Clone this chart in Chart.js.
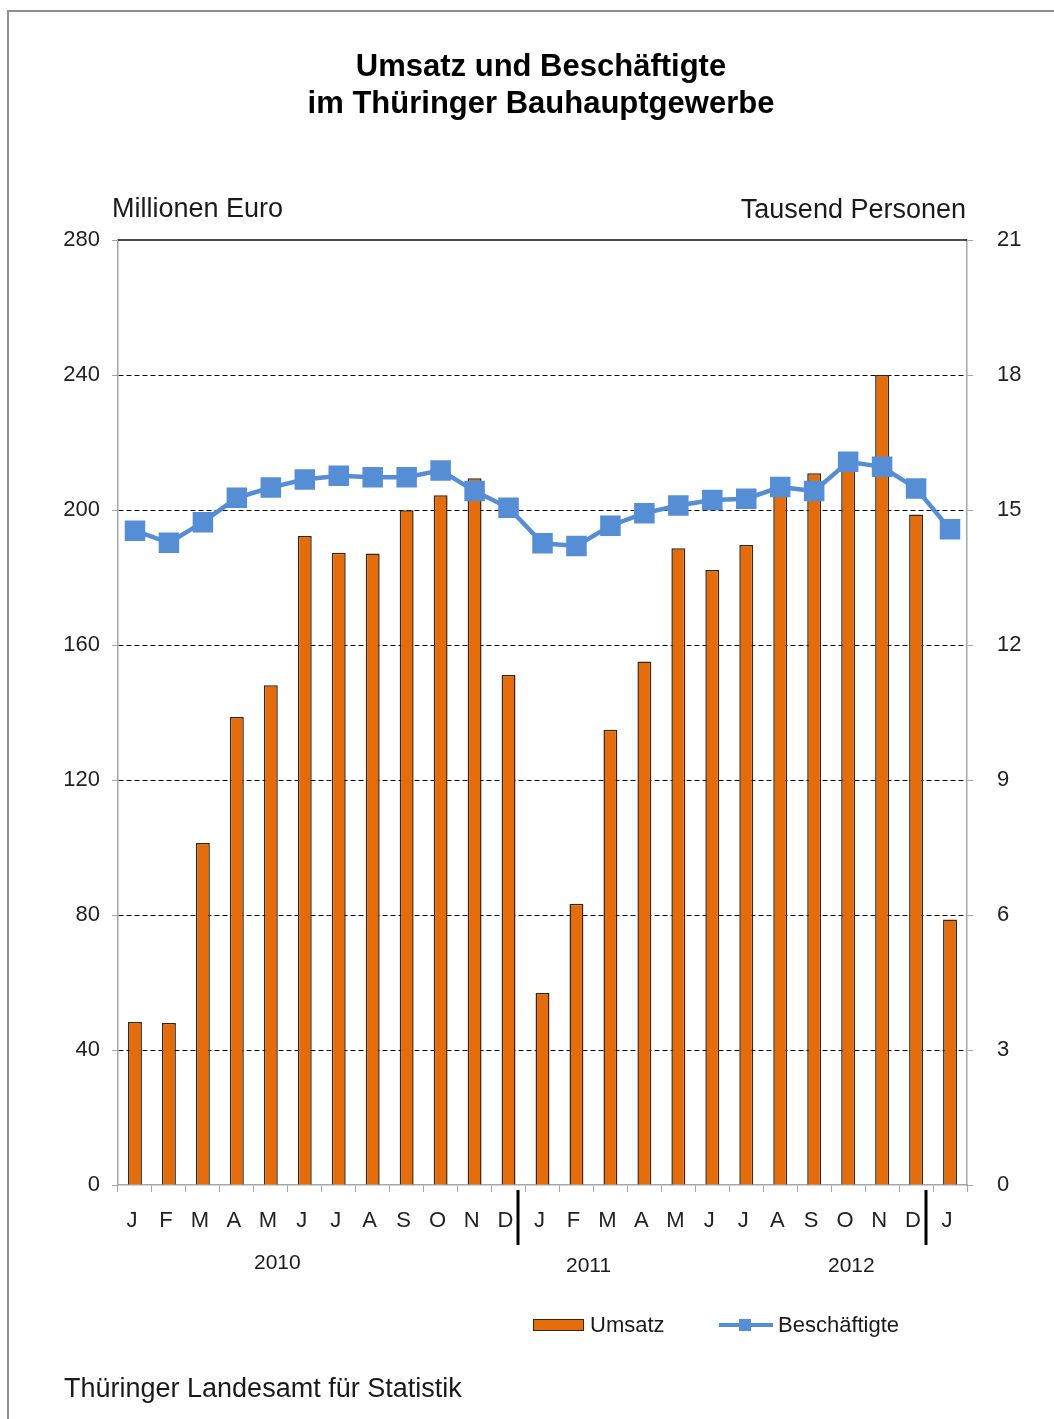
<!DOCTYPE html>
<html><head><meta charset="utf-8">
<script src="https://cdn.jsdelivr.net/npm/chart.js@4.4.1/dist/chart.umd.min.js"></script>
<style>
html,body{margin:0;padding:0;background:#fff;overflow:hidden;}
body{width:1054px;height:1419px;position:relative;font-family:"Liberation Sans",Arial,sans-serif;color:#1a1a1a;}
#frame{position:absolute;left:7px;top:10px;width:1200px;height:1600px;border:2px solid #8f8f8f;box-sizing:border-box;}
#c{position:absolute;left:0;top:0;}
.t{position:absolute;white-space:nowrap;}
</style></head><body>
<div id="frame"></div>
<canvas id="c" width="1054" height="1419"></canvas>
<div class="t" style="left:0;width:1082px;text-align:center;top:47px;font-weight:bold;font-size:31px;line-height:37px;color:#000;">Umsatz und Beschäftigte<br>im Thüringer Bauhauptgewerbe</div>
<div class="t" style="left:112px;top:193px;font-size:27px;">Millionen Euro</div>
<div class="t" style="right:88px;top:194px;font-size:27px;">Tausend Personen</div>
<div class="t" style="left:254px;top:1250px;font-size:21px;">2010</div>
<div class="t" style="left:566px;top:1253px;font-size:21px;">2011</div>
<div class="t" style="left:828px;top:1253px;font-size:21px;">2012</div>
<div class="t" style="left:533px;top:1319px;width:49px;height:10px;background:#E46C0A;border:1.5px solid #3b2413;"></div>
<div class="t" style="left:590px;top:1312px;font-size:22px;">Umsatz</div>
<div class="t" style="left:719px;top:1323px;width:54px;height:4px;background:#558ED5;"></div>
<div class="t" style="left:739px;top:1319px;width:12px;height:12px;background:#558ED5;"></div>
<div class="t" style="left:778px;top:1312px;font-size:22px;">Beschäftigte</div>
<div class="t" style="left:64px;top:1373px;font-size:27px;">Thüringer Landesamt für Statistik</div>
<script>
const categories = ['J','F','M','A','M','J','J','A','S','O','N','D','J','F','M','A','M','J','J','A','S','O','N','D','J'];
const umsatz = [48.3,48,101.3,138.7,148.1,192.3,187.3,187.1,199.9,204.4,209.4,151.1,56.9,83.3,134.9,155.1,188.7,182.2,189.6,206,210.9,213,240,198.7,78.7];
const beschaeftigte = [14.54,14.27,14.73,15.27,15.50,15.68,15.76,15.73,15.73,15.88,15.42,15.05,14.26,14.20,14.65,14.93,15.10,15.22,15.25,15.51,15.42,16.07,15.96,15.48,14.57];
const yTicksLeft = {min:0, max:280, step:40};
const yTicksRight = {min:0, max:21, step:3};
const yearBreaks = [11.27, 23.3];

const FONT = '"Liberation Sans", Arial, sans-serif';
const extras = {
  id:'extras',
  afterDraw(chart){
    const ctx = chart.ctx, a = chart.chartArea, xs = chart.scales.x;
    ctx.save();
    ctx.strokeStyle = '#111'; ctx.lineWidth = 1.5;
    ctx.beginPath(); ctx.moveTo(a.left, a.top); ctx.lineTo(a.right, a.top); ctx.stroke();
    ctx.lineWidth = 3; ctx.strokeStyle = '#000';
    yearBreaks.forEach(v => {
      const px = Math.round(xs.getPixelForValue(v));
      ctx.beginPath(); ctx.moveTo(px, a.bottom + 5); ctx.lineTo(px, a.bottom + 60); ctx.stroke();
    });
    ctx.restore();
  }
};

new Chart(document.getElementById('c'), {
  data: {
    labels: categories,
    datasets: [
      {type:'line', label:'Beschäftigte', data:beschaeftigte, yAxisID:'y2', order:0,
       borderColor:'#558ED5', borderWidth:4.5, tension:0,
       pointStyle:'rect', pointRadius:14.5, pointHoverRadius:14.5,
       pointBackgroundColor:'#558ED5', pointBorderWidth:0},
      {type:'bar', label:'Umsatz', data:umsatz, yAxisID:'y', order:1,
       backgroundColor:'#E46C0A', borderColor:'#3b2413', borderWidth:1.5,
       barPercentage:0.41, categoryPercentage:1}
    ]
  },
  options: {
    responsive:false, animation:false, devicePixelRatio:1,
    layout:{padding:{top:240, left:0, right:0, bottom:0}},
    plugins:{legend:{display:false}, title:{display:false}, tooltip:{enabled:false}},
    scales:{
      x:{
        grid:{offset:true, drawOnChartArea:false, color:'#a6a6a6', tickLength:7},
        border:{color:'#a6a6a6', width:1.5},
        ticks:{color:'#222', font:{size:22, family:FONT}, padding:16, labelOffset:-3, maxRotation:0, autoSkip:false},
        afterFit(s){ s.height = 234; }
      },
      y:{
        position:'left', min:yTicksLeft.min, max:yTicksLeft.max,
        ticks:{stepSize:yTicksLeft.step, color:'#222', font:{size:22, family:FONT}, padding:12},
        grid:{color:c => (c.tick && (c.tick.value===0 || c.tick.value===280)) ? 'rgba(0,0,0,0)' : '#000',
              tickColor:'#a6a6a6', tickLength:6, lineWidth:1},
        border:{color:'#a6a6a6', width:1.5, dash:[5,3]},
        afterFit(s){ s.width = 118; }
      },
      y2:{
        position:'right', min:yTicksRight.min, max:yTicksRight.max,
        ticks:{stepSize:yTicksRight.step, color:'#222', font:{size:22, family:FONT}, padding:24},
        grid:{drawOnChartArea:false, color:'#a6a6a6', tickLength:6},
        border:{color:'#a6a6a6', width:1.5},
        afterFit(s){ s.width = 87; }
      }
    }
  },
  plugins:[extras]
});
</script>
</body></html>
